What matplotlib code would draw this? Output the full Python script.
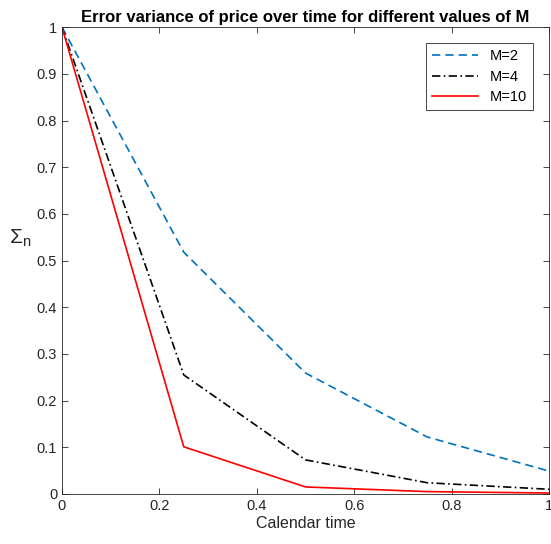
import matplotlib
matplotlib.use('Agg')
import matplotlib.pyplot as plt

plt.rcParams['font.family'] = ['Liberation Sans', 'DejaVu Sans']
plt.rcParams['mathtext.fontset'] = 'custom'
plt.rcParams['mathtext.rm'] = 'Liberation Sans'
plt.rcParams['mathtext.it'] = 'Liberation Sans'

# calendar time and error variance for each M
t = [0, 0.25, 0.5, 0.75, 1.0]
m2 = [1.0, 0.518, 0.259, 0.122, 0.049]
m4 = [1.0, 0.255, 0.073, 0.024, 0.010]
m10 = [1.0, 0.101, 0.015, 0.005, 0.002]
labels = ['M=2', 'M=4', 'M=10']

fig = plt.figure(figsize=(5.51, 5.44), dpi=100)
ax = fig.add_axes([0.1125, 0.092, 0.884, 0.858])

ax.plot(t, m2, '--', color='#0072BD', lw=1.2, label=labels[0], dashes=(5, 3))
ax.plot(t, m4, '-.', color='black', lw=1.2, label=labels[1], dashes=(5, 2, 1, 2))
ax.plot(t, m10, '-', color='#FF0000', lw=1.2, label=labels[2])

ax.set_xlim(0, 1)
ax.set_ylim(0, 1)
ax.set_xticks([0, 0.2, 0.4, 0.6, 0.8, 1])
ax.set_xticklabels(['0', '0.2', '0.4', '0.6', '0.8', '1'])
ax.set_yticks([i / 10 for i in range(11)])
ax.set_yticklabels(['0'] + ['%.1f' % (i / 10) for i in range(1, 10)] + ['1'])
ax.tick_params(direction='in', top=True, right=True, labelsize=10.5, length=4, width=0.6, colors='#262626')
for s in ax.spines.values():
    s.set_linewidth(0.6)
    s.set_color('#262626')

ax.set_xlabel('Calendar time', fontsize=11.5, color='#262626', labelpad=2)
ax.set_ylabel(r'$\Sigma_n$', fontsize=15, rotation=0, color='#262626',
              va='center', ha='center')
ax.yaxis.set_label_coords(-0.086, 0.548)
ax.set_title('Error variance of price over time for different values of M',
             fontsize=12, fontweight='bold', pad=4)

leg = ax.legend(loc='upper right', fontsize=10.5, fancybox=False, framealpha=1,
                edgecolor='#262626', handlelength=3.2, borderaxespad=1.1,
                labelspacing=0.45)
leg.get_frame().set_linewidth(0.6)

fig.savefig('out.png', dpi=100)
